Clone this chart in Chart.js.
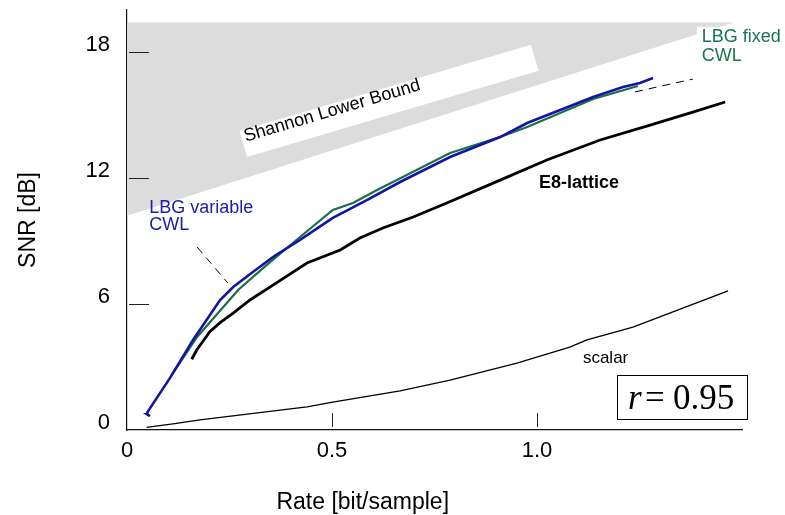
<!DOCTYPE html>
<html>
<head>
<meta charset="utf-8">
<script src="https://cdn.jsdelivr.net/npm/chart.js@4/dist/chart.umd.min.js"></script>
<style>
  html, body { margin: 0; padding: 0; background: #fff; }
  #wrap { width: 785px; height: 515px; }
</style>
</head>
<body>
<div id="wrap"><canvas id="grafico" width="785" height="515"></canvas></div>
<script>
// LBG, variable codeword length (blue)
const rateLbgVar = [0.056, 0.049, 0.05, 0.105, 0.161, 0.227, 0.259, 0.307, 0.356, 0.422, 0.502, 0.585, 0.666, 0.788, 0.91, 0.976, 1.137, 1.21, 1.251, 1.283];
const snrLbgVar = [0.66, 0.75, 0.85, 2.48, 4.29, 6.19, 6.81, 7.52, 8.24, 9.05, 10.1, 10.95, 11.81, 13.0, 13.95, 14.62, 15.86, 16.33, 16.52, 16.76];

// LBG, fixed codeword length (green)
const rateLbgFix = [0.11, 0.171, 0.271, 0.341, 0.422, 0.502, 0.551, 0.61, 0.788, 0.91, 0.976, 1.137, 1.246];
const snrLbgFix = [2.65, 4.43, 6.67, 7.86, 9.19, 10.48, 10.81, 11.43, 13.19, 13.95, 14.43, 15.76, 16.38];

// E8 lattice
const rateE8 = [0.158, 0.17, 0.202, 0.227, 0.259, 0.3, 0.356, 0.439, 0.52, 0.568, 0.624, 0.698, 0.78, 0.91, 1.024, 1.154, 1.276, 1.38, 1.459];
const snrE8 = [3.37, 3.81, 4.68, 5.11, 5.57, 6.19, 6.9, 7.95, 8.57, 9.14, 9.62, 10.14, 10.81, 11.9, 12.86, 13.81, 14.52, 15.14, 15.62];

// scalar quantizer
const rateScalar = [0.048, 0.112, 0.178, 0.439, 0.502, 0.666, 0.788, 0.951, 1.08, 1.122, 1.234, 1.466];
const snrScalar = [0.13, 0.29, 0.48, 1.1, 1.33, 1.86, 2.38, 3.19, 3.95, 4.29, 4.9, 6.62];

// Shannon lower bound (gray band above it)
const rateSlb = [0, 1.48];
const snrSlb = [10.2, 19.4];
const snrSlbTop = [19.4, 19.4];

const xTicks = [0, 0.5, 1.0];
const xTickLabels = ["0", "0.5", "1.0"];
const yTicks = [0, 6, 12, 18];
const yTickLabels = ["0", "6", "12", "18"];

const fontSans = "'Liberation Sans', Arial, sans-serif";
const fontSerif = "'Liberation Serif', 'Times New Roman', serif";

function pontos(xs, ys) {
  return xs.map((x, i) => ({ x: x, y: ys[i] }));
}

// text notes, in data units
const notas = [
  { text: "LBG variable", x: 0.054, y: 10.33, color: "#1c1ca6", font: "18px " + fontSans },
  { text: "CWL", x: 0.054, y: 9.52, color: "#1c1ca6", font: "18px " + fontSans },
  { text: "LBG fixed", x: 1.402, y: 18.48, color: "#1a7550", font: "18px " + fontSans },
  { text: "CWL", x: 1.402, y: 17.57, color: "#1a7550", font: "18px " + fontSans },
  { text: "E8-lattice", x: 1.005, y: 11.52, color: "#000", font: "bold 18px " + fontSans },
  { text: "scalar", x: 1.112, y: 3.19, color: "#000", font: "17px " + fontSans },
];
const setas = [
  [0.171, 8.71, 0.246, 7.0],
  [1.239, 16.1, 1.38, 16.71],
];

const anotacoes = {
  id: "anotacoes",
  afterDatasetsDraw(chart) {
    const ctx = chart.ctx;
    const sx = chart.scales.x;
    const sy = chart.scales.y;
    const area = chart.chartArea;
    ctx.save();

    // white patch behind "LBG fixed CWL"
    ctx.fillStyle = "#fff";
    ctx.fillRect(sx.getPixelForValue(1.39), sy.getPixelForValue(19.2), 100, 40);

    // Shannon Lower Bound box
    const bx = sx.getPixelForValue(0.293);
    const by = sy.getPixelForValue(13.0);
    ctx.save();
    ctx.translate(bx, by);
    ctx.rotate((-16.5 * Math.PI) / 180);
    ctx.fillStyle = "#fff";
    ctx.fillRect(0, -27, 304, 27);
    ctx.fillStyle = "#000";
    ctx.font = "18px " + fontSans;
    ctx.textBaseline = "alphabetic";
    ctx.fillText("Shannon Lower Bound", 3, -15);
    ctx.restore();

    // labels
    ctx.textBaseline = "alphabetic";
    ctx.textAlign = "left";
    notas.forEach((n) => {
      ctx.font = n.font;
      ctx.fillStyle = n.color;
      ctx.fillText(n.text, sx.getPixelForValue(n.x), sy.getPixelForValue(n.y));
    });

    // dashed leaders
    ctx.strokeStyle = "#000";
    ctx.lineWidth = 1;
    ctx.setLineDash([8, 6]);
    setas.forEach((s) => {
      ctx.beginPath();
      ctx.moveTo(sx.getPixelForValue(s[0]), sy.getPixelForValue(s[1]));
      ctx.lineTo(sx.getPixelForValue(s[2]), sy.getPixelForValue(s[3]));
      ctx.stroke();
    });
    ctx.setLineDash([]);

    // r = 0.95 box
    const rx0 = sx.getPixelForValue(1.195);
    const ry0 = sy.getPixelForValue(2.62);
    const rx1 = sx.getPixelForValue(1.512);
    const ry1 = sy.getPixelForValue(0.52);
    ctx.lineWidth = 1;
    ctx.strokeRect(Math.round(rx0) + 0.5, Math.round(ry0) + 0.5, Math.round(rx1 - rx0), Math.round(ry1 - ry0));
    const base = sy.getPixelForValue(1.0);
    ctx.fillStyle = "#000";
    ctx.font = "italic 35px " + fontSerif;
    ctx.fillText("r", rx0 + 11, base);
    ctx.font = "35px " + fontSerif;
    ctx.fillText("=", rx0 + 28, base);
    ctx.fillText("0.95", rx0 + 56, base);

    // inner tick marks
    ctx.strokeStyle = "#222";
    ctx.lineWidth = 1;
    yTicks.forEach((v) => {
      if (v === 0) return;
      const py = Math.round(sy.getPixelForValue(v)) + 0.5;
      ctx.beginPath();
      ctx.moveTo(area.left + 2, py);
      ctx.lineTo(area.left + 22, py);
      ctx.stroke();
    });
    xTicks.forEach((v) => {
      if (v === 0) return;
      const px = Math.round(sx.getPixelForValue(v)) + 0.5;
      ctx.beginPath();
      ctx.moveTo(px, area.bottom - 17);
      ctx.lineTo(px, area.bottom - 3);
      ctx.stroke();
    });

    // x axis title
    ctx.font = "23px " + fontSans;
    ctx.textAlign = "center";
    ctx.textBaseline = "middle";
    ctx.fillText("Rate [bit/sample]", sx.getPixelForValue(0.575), area.bottom + 73);
    ctx.restore();
  },
};

const ctx = document.getElementById("grafico").getContext("2d");

new Chart(ctx, {
  type: "line",
  data: {
    datasets: [
      {
        data: pontos(rateLbgVar, snrLbgVar),
        borderColor: "#1414a0",
        borderWidth: 2.6,
        pointRadius: 0,
        tension: 0,
      },
      {
        data: pontos(rateLbgFix, snrLbgFix),
        borderColor: "#1a6e4b",
        borderWidth: 2.2,
        pointRadius: 0,
        tension: 0,
      },
      {
        data: pontos(rateE8, snrE8),
        borderColor: "#000",
        borderWidth: 2.8,
        pointRadius: 0,
        tension: 0,
      },
      {
        data: pontos(rateScalar, snrScalar),
        borderColor: "#000",
        borderWidth: 1.3,
        pointRadius: 0,
        tension: 0,
      },
      {
        data: pontos(rateSlb, snrSlbTop),
        borderWidth: 0,
        pointRadius: 0,
        backgroundColor: "#dcdcdc",
        fill: "+1",
      },
      {
        data: pontos(rateSlb, snrSlb),
        borderWidth: 0,
        pointRadius: 0,
      },
    ],
  },
  options: {
    responsive: false,
    animation: false,
    devicePixelRatio: 1,
    layout: { padding: { left: 0, top: 10, right: 43, bottom: 0 } },
    plugins: {
      legend: { display: false },
      tooltip: { enabled: false },
    },
    scales: {
      x: {
        type: "linear",
        min: 0,
        max: 1.5,
        grid: { display: false, drawTicks: false },
        border: { display: true, color: "#111", width: 1.2 },
        afterBuildTicks: (scale) => {
          scale.ticks = xTicks.map((v) => ({ value: v }));
        },
        afterFit: (scale) => {
          scale.height = 85;
          scale.paddingLeft = 0;
          scale.paddingRight = 0;
        },
        ticks: {
          padding: 8,
          color: "#000",
          font: { family: fontSans, size: 22 },
          maxRotation: 0,
          callback: (v) => xTickLabels[xTicks.indexOf(v)],
        },
      },
      y: {
        type: "linear",
        min: 0,
        max: 20,
        grid: { display: false, drawTicks: false },
        border: { display: true, color: "#111", width: 1.2 },
        afterBuildTicks: (scale) => {
          scale.ticks = yTicks.map((v) => ({ value: v }));
        },
        afterFit: (scale) => {
          scale.width = 127;
          scale.paddingTop = 0;
          scale.paddingBottom = 0;
        },
        ticks: {
          padding: 17,
          labelOffset: -7,
          color: "#000",
          font: { family: fontSans, size: 22 },
          callback: (v) => yTickLabels[yTicks.indexOf(v)],
        },
        title: {
          display: true,
          text: "SNR [dB]",
          color: "#000",
          font: { family: fontSans, size: 23, weight: "normal" },
          padding: { top: 15, bottom: 0 },
        },
      },
    },
  },
  plugins: [anotacoes],
});
</script>
</body>
</html>
